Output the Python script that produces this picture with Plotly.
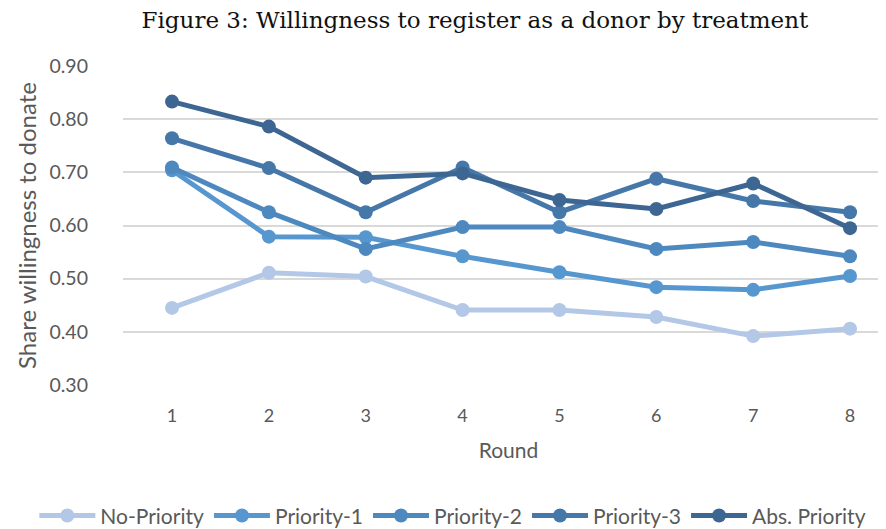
import plotly.graph_objects as go

rounds = [1, 2, 3, 4, 5, 6, 7, 8]
series_names = ["No-Priority", "Priority-1", "Priority-2", "Priority-3", "Abs. Priority"]
no_priority = [0.445, 0.511, 0.504, 0.441, 0.441, 0.428, 0.392, 0.406]
priority_1 = [0.704, 0.579, 0.578, 0.542, 0.512, 0.484, 0.479, 0.505]
priority_2 = [0.709, 0.625, 0.556, 0.597, 0.597, 0.556, 0.569, 0.542]
priority_3 = [0.764, 0.708, 0.625, 0.709, 0.625, 0.688, 0.646, 0.625]
abs_priority = [0.833, 0.786, 0.690, 0.698, 0.648, 0.631, 0.679, 0.595]
y_ticks = [0.30, 0.40, 0.50, 0.60, 0.70, 0.80, 0.90]

colors = ["#B3C8E6", "#5797CF", "#4D88BF", "#4677A9", "#3D6792"]
values = [no_priority, priority_1, priority_2, priority_3, abs_priority]

fig = go.Figure()
for name, vals, col in zip(series_names, values, colors):
    fig.add_trace(go.Scatter(
        x=rounds, y=vals, name=name, mode="lines+markers",
        line=dict(color=col, width=5),
        marker=dict(color=col, size=14),
    ))

font_sans = "Lato, 'Open Sans', sans-serif"
fig.update_layout(
    width=886, height=529,
    margin=dict(l=115, r=0, t=58, b=152, autoexpand=False),
    paper_bgcolor="white", plot_bgcolor="white",
    title=dict(text="Figure 3: Willingness to register as a donor by treatment",
               x=0.527, xref="container", xanchor="center",
               y=0.977, yref="container", yanchor="middle",
               font=dict(family="'DejaVu Serif', serif", size=23, color="#111111")),
    xaxis=dict(range=[0.494, 8.454], tickmode="array", tickvals=rounds,
               ticktext=[str(r) for r in rounds], showgrid=False, zeroline=False,
               showline=False, ticks="", ticklabelstandoff=18, automargin=False,
               tickfont=dict(family=font_sans, size=18, color="#595959"),
               title=dict(text="Round", font=dict(family=font_sans, size=21, color="#595959"),
                          standoff=18)),
    yaxis=dict(range=[0.3, 0.9], tickmode="array", tickvals=y_ticks,
               ticktext=[f"{v:.2f}" for v in y_ticks], automargin=False,
               showgrid=True, gridcolor="#D9D9D9", gridwidth=1.5, zeroline=False,
               showline=False, ticks="", ticklabelstandoff=34,
               tickfont=dict(family=font_sans, size=19.5, color="#595959"),
               title=dict(text="Share willingness to donate",
                          font=dict(family=font_sans, size=24, color="#595959"), standoff=6)),
    legend=dict(orientation="h", x=-0.115, xanchor="left", y=-0.41, yanchor="middle",
                font=dict(family=font_sans, size=21, color="#595959"),
                itemwidth=56, tracegroupgap=0),
    showlegend=True,
)

fig.write_html("out.html")
